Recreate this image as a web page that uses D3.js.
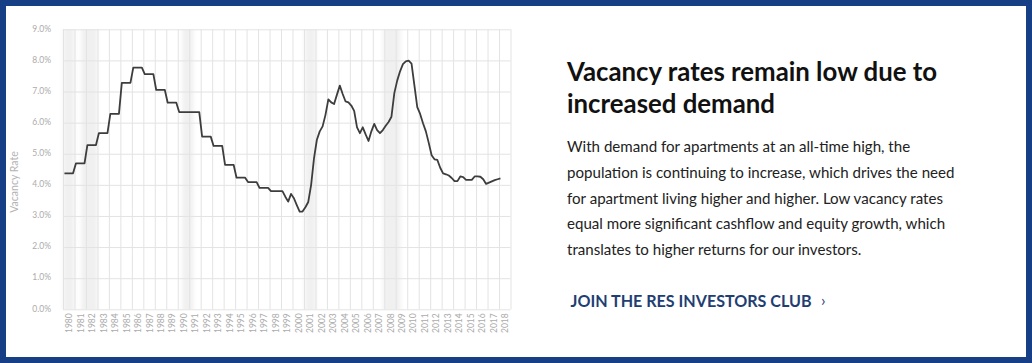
<!DOCTYPE html>
<html><head><meta charset="utf-8">
<script src="https://cdn.jsdelivr.net/npm/d3@7"></script>
<style>html,body{margin:0;padding:0;background:#fff;} svg{display:block;}</style>
</head><body>
<svg id="c" width="1032" height="363"></svg>
<script>
// ---- data ----
const yearLabels = ["1980","1981","1982","1983","1984","1985","1986","1987","1988","1989",
  "1990","1991","1992","1993","1994","1995","1996","1997","1998","1999",
  "2000","2001","2002","2003","2004","2005","2006","2007","2008","2009",
  "2010","2011","2012","2013","2014","2015","2016","2017","2018"];
const yTicks = [0,1,2,3,4,5,6,7,8,9];
const firstYear = 1980;
// quarterly vacancy rate (%), starting 1980 Q1, one row per year
const quarterlyRates = [
  4.37,4.37,4.37,4.37, // 1980
  4.69,4.69,4.69,4.69, // 1981
  5.28,5.28,5.28,5.28, // 1982
  5.66,5.66,5.66,5.66, // 1983
  6.28,6.28,6.28,6.28, // 1984
  7.28,7.28,7.28,7.28, // 1985
  7.77,7.77,7.77,7.77, // 1986
  7.56,7.56,7.56,7.56, // 1987
  7.05,7.05,7.05,7.05, // 1988
  6.64,6.64,6.64,6.64, // 1989
  6.34,6.34,6.34,6.34, // 1990
  6.34,6.34,6.34,6.34, // 1991
  5.55,5.55,5.55,5.55, // 1992
  5.25,5.25,5.25,5.25, // 1993
  4.64,4.64,4.64,4.64, // 1994
  4.23,4.23,4.23,4.23, // 1995
  4.09,4.09,4.09,4.09, // 1996
  3.90,3.90,3.90,3.90, // 1997
  3.80,3.80,3.80,3.80, // 1998
  3.80,3.62,3.46,3.71, // 1999
  3.57,3.35,3.14,3.14, // 2000
  3.28,3.45,4.00,4.85, // 2001
  5.45,5.72,5.88,6.25, // 2002
  6.75,6.65,6.60,6.90, // 2003
  7.19,6.92,6.68,6.65, // 2004
  6.55,6.38,5.85,5.66, // 2005
  5.85,5.62,5.41,5.72, // 2006
  5.96,5.76,5.66,5.76, // 2007
  5.90,6.02,6.19,6.95, // 2008
  7.35,7.65,7.88,7.97, // 2009
  7.99,7.90,7.20,6.50, // 2010
  6.28,5.98,5.72,5.35, // 2011
  4.95,4.82,4.80,4.55, // 2012
  4.37,4.34,4.30,4.22, // 2013
  4.12,4.12,4.27,4.25, // 2014
  4.16,4.16,4.16,4.27, // 2015
  4.27,4.26,4.18,4.03, // 2016
  4.07,4.11,4.15,4.18, // 2017
  4.21                 // 2018
];
// recession shading (decimal years)
const recessionStart = [1980.0, 1981.6, 1990.4, 2001.1, 2007.9];
const recessionEnd   = [1981.0, 1983.0, 1991.35, 2002.05, 2009.4];

const yAxisTitle = "Vacancy Rate";
const titleLines = ["Vacancy rates remain low due to", "increased demand"];
const bodyLines = [
  "With demand for apartments at an all-time high, the",
  "population is continuing to increase, which drives the need",
  "for apartment living higher and higher. Low vacancy rates",
  "equal more significant cashflow and equity growth, which",
  "translates to higher returns for our investors."
];
const ctaText = "JOIN THE RES INVESTORS CLUB";

// ---- drawing ----
const svg = d3.select("#c");
const W = 1032, H = 363;
const border = "#173f86";
svg.append("rect").attr("x",0).attr("y",0).attr("width",W).attr("height",H).attr("fill",border);
svg.append("rect").attr("x",6).attr("y",6).attr("width",W-12).attr("height",H-12).attr("fill","#fff");

const plot = {left:63, right:510.5, top:29.3, bottom:309.3};
const x = d3.scaleLinear().domain([firstYear, firstYear + yearLabels.length]).range([plot.left, plot.right]);
const y = d3.scaleLinear().domain([0, 9]).range([plot.bottom, plot.top]);

const defs = svg.append("defs");
defs.append("filter").attr("id","soft").attr("x","-20%").attr("width","140%")
  .append("feGaussianBlur").attr("stdDeviation","2 0");

// recession bands
svg.append("g").attr("filter","url(#soft)").selectAll("rect")
  .data(recessionStart.map((s,i)=>({s, e:recessionEnd[i]})))
  .join("rect")
  .attr("x", d=>x(d.s)).attr("width", d=>x(d.e)-x(d.s))
  .attr("y", plot.top).attr("height", plot.bottom-plot.top)
  .attr("fill","#f0f0f0");

const gridColor = "#e3e3e3";
const years = yearLabels.map(Number);
// vertical grid
const vg = svg.append("g").attr("transform",`translate(0,${plot.bottom})`)
  .call(d3.axisBottom(x).tickValues(years.concat([years[years.length-1]+1])).tickSize(-(plot.bottom-plot.top)).tickFormat(""));
vg.select(".domain").remove();
vg.selectAll("line").attr("stroke",gridColor).attr("stroke-width",1);

// horizontal grid + y labels
const yg = svg.append("g").attr("transform",`translate(${plot.left},0)`)
  .call(d3.axisLeft(y).tickValues(yTicks).tickSize(-(plot.right-plot.left)).tickPadding(12)
    .tickFormat(d => d.toFixed(1) + "%"));
yg.select(".domain").remove();
yg.selectAll("line").attr("stroke",gridColor).attr("stroke-width",1);
yg.selectAll("text").attr("fill","#ababab").attr("font-family","Lato, sans-serif").attr("font-size","8.5px").attr("dy","0.2em");

// x labels
const xl = svg.append("g").attr("transform",`translate(0,${plot.bottom})`)
  .call(d3.axisBottom(x).tickValues(years.map(v=>v+0.5)).tickSize(0)
    .tickFormat((d,i) => yearLabels[i]));
xl.select(".domain").remove();
xl.selectAll("text")
  .attr("transform","rotate(-90)").attr("x",-4).attr("y",0).attr("dy","0.35em")
  .attr("text-anchor","end").attr("fill","#ababab")
  .attr("font-family","Lato, sans-serif").attr("font-size","8.5px");

// y-axis title
svg.append("text").attr("transform","translate(17.5,182) rotate(-90)")
  .attr("text-anchor","middle").attr("fill","#b3b3b3")
  .attr("font-family","Lato, sans-serif").attr("font-size","10.5px").text(yAxisTitle);

// line
const pts = quarterlyRates.map((v,i)=>({t: firstYear + i/4 + 0.125, v}));
svg.append("path").datum(pts)
  .attr("fill","none").attr("stroke","#3d3d3d").attr("stroke-width",1.8)
  .attr("stroke-linejoin","round")
  .attr("d", d3.line().x(d=>x(d.t)).y(d=>y(d.v)));

// right text block
const tx = 567;
svg.append("g").selectAll("text").data(titleLines).join("text")
  .attr("x",tx).attr("y",(d,i)=>81 + i*31.5)
  .attr("font-family","Lato, sans-serif").attr("font-weight",700).attr("font-size","25.8px")
  .attr("fill","#111").text(d=>d);
svg.append("g").selectAll("text").data(bodyLines).join("text")
  .attr("x",tx).attr("y",(d,i)=>152 + i*25.8)
  .attr("font-family","Lato, sans-serif").attr("font-size","15.1px")
  .attr("fill","#222").text(d=>d);
svg.append("text").attr("x",570.5).attr("y",307)
  .attr("font-family","Lato, sans-serif").attr("font-weight",700).attr("font-size","16.1px")
  .attr("fill","#1f3e72").text(ctaText);
svg.append("text").attr("x",821).attr("y",306)
  .attr("font-family","Lato, sans-serif").attr("font-size","16px")
  .attr("fill","#1f3e72").text("\u203A");
</script>
</body></html>
